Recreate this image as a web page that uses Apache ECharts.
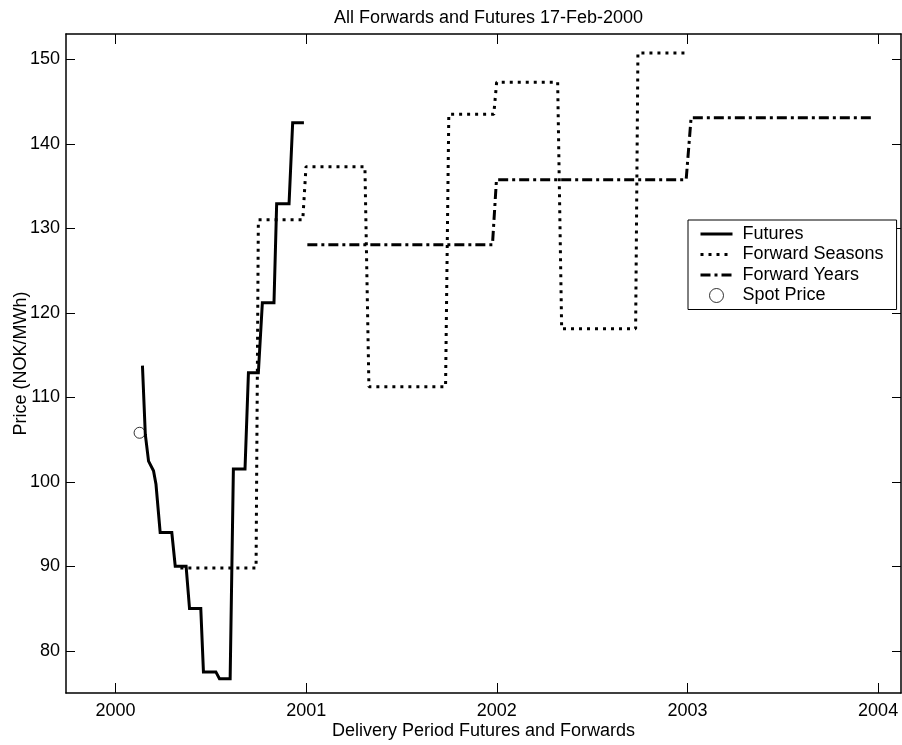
<!DOCTYPE html>
<html>
<head>
<meta charset="utf-8">
<script src="https://cdn.jsdelivr.net/npm/echarts@6/dist/echarts.min.js"></script>
<style>
html,body{margin:0;padding:0;background:#fff;}
#chart{width:902px;height:745px;}
</style>
</head>
<body>
<div id="chart"></div>
<script>
// ---- data (x in decimal years, y in NOK/MWh) ----
var futuresX = [2000.141, 2000.156, 2000.173, 2000.199, 2000.212, 2000.234, 2000.295, 2000.313, 2000.370, 2000.388, 2000.447, 2000.461, 2000.526, 2000.545, 2000.601, 2000.618, 2000.679, 2000.697, 2000.749, 2000.770, 2000.831, 2000.845, 2000.910, 2000.929, 2000.988];
var futuresY = [113.75, 105.6, 102.45, 101.3, 99.7, 94.0, 94.0, 90.0, 90.0, 85.0, 85.0, 77.5, 77.5, 76.7, 76.7, 101.5, 101.5, 112.9, 112.9, 121.2, 121.2, 132.9, 132.9, 142.5, 142.5];

var seasonsX = [2000.340, 2000.737, 2000.749, 2000.982, 2000.999, 2001.308, 2001.329, 2001.731, 2001.748, 2001.984, 2001.999, 2002.319, 2002.340, 2002.728, 2002.740, 2002.993];
var seasonsY = [89.8, 89.8, 131.0, 131.0, 137.3, 137.3, 111.25, 111.25, 143.5, 143.5, 147.3, 147.3, 118.1, 118.1, 150.75, 150.75];

var yearsX = [2001.006, 2001.977, 2001.998, 2002.993, 2003.019, 2003.980];
var yearsY = [128.05, 128.05, 135.75, 135.75, 143.1, 143.1];

var spotX = [2000.126];
var spotY = [105.8];

var xTicks = [2000, 2001, 2002, 2003, 2004];
var yTicks = [80, 90, 100, 110, 120, 130, 140, 150];

var titleText = 'All Forwards and Futures 17-Feb-2000';
var xName = 'Delivery Period Futures and Forwards';
var yName = 'Price (NOK/MWh)';
var seriesNames = ['Futures', 'Forward Seasons', 'Forward Years', 'Spot Price'];

function pairs(xs, ys) { return xs.map(function (x, i) { return [x, ys[i]]; }); }

var FONT = 'Liberation Sans, Arial, sans-serif';
var FS = 18;
var xMin = 1999.74, xMax = 2004.12, yMin = 75, yMax = 153;

var chart = echarts.init(document.getElementById('chart'), null, { renderer: 'canvas' });

var axisLine = { show: true, onZero: false, lineStyle: { color: '#000', width: 1.5 } };
var hiddenSym = { color: 'rgba(0,0,0,0)', borderColor: 'rgba(0,0,0,0)', borderWidth: 0, opacity: 0 };

var option = {
  animation: false,
  backgroundColor: '#fff',
  textStyle: { fontFamily: FONT },
  title: {
    text: titleText,
    left: 483.5,
    textAlign: 'center',
    top: 4,
    textStyle: { fontFamily: FONT, fontSize: FS, fontWeight: 'normal', color: '#000' }
  },
  grid: { left: 66, top: 34, right: 1, bottom: 49, containLabel: false },
  legend: {
    orient: 'vertical',
    left: 688,
    top: 220,
    padding: [5, 13, 5, 11],
    itemWidth: 32,
    itemHeight: 14,
    itemGap: 2.5,
    backgroundColor: '#fff',
    borderColor: '#000',
    borderWidth: 1,
    borderRadius: 0,
    lineStyle: { width: 3 },
    textStyle: { fontFamily: FONT, fontSize: FS, color: '#000', lineHeight: 16, padding: [0, 0, 0, 5] },
    data: [
      { name: seriesNames[0], itemStyle: hiddenSym },
      { name: seriesNames[1], itemStyle: hiddenSym },
      { name: seriesNames[2], itemStyle: hiddenSym },
      { name: seriesNames[3], itemStyle: { borderWidth: 1 } }
    ]
  },
  xAxis: [
    {
      type: 'value', position: 'bottom', min: xMin, max: xMax,
      name: xName, nameLocation: 'middle', nameGap: 29, nameMoveOverlap: false,
      nameTextStyle: { fontFamily: FONT, fontSize: FS, color: '#000' },
      axisLine: axisLine,
      axisTick: { show: true, inside: true, length: 10, customValues: xTicks, lineStyle: { color: '#000', width: 1 } },
      axisLabel: { show: true, customValues: xTicks, margin: 9, fontFamily: FONT, fontSize: FS, color: '#000', formatter: function (v) { return String(Math.round(v)); } },
      splitLine: { show: false }
    },
    {
      type: 'value', position: 'top', min: xMin, max: xMax,
      axisLine: axisLine,
      axisTick: { show: true, inside: true, length: 10, customValues: xTicks, lineStyle: { color: '#000', width: 1 } },
      axisLabel: { show: false },
      splitLine: { show: false }
    }
  ],
  yAxis: [
    {
      type: 'value', position: 'left', min: yMin, max: yMax,
      name: yName, nameLocation: 'middle', nameGap: 36, nameMoveOverlap: false,
      nameTextStyle: { fontFamily: FONT, fontSize: FS, color: '#000' },
      axisLine: axisLine,
      axisTick: { show: true, inside: true, length: 9, customValues: yTicks, lineStyle: { color: '#000', width: 1 } },
      axisLabel: { show: true, customValues: yTicks, margin: 6, fontFamily: FONT, fontSize: FS, color: '#000' },
      splitLine: { show: false }
    },
    {
      type: 'value', position: 'right', min: yMin, max: yMax,
      axisLine: axisLine,
      axisTick: { show: true, inside: true, length: 9, customValues: yTicks, lineStyle: { color: '#000', width: 1 } },
      axisLabel: { show: false },
      splitLine: { show: false }
    }
  ],
  series: [
    {
      name: seriesNames[0], type: 'line', xAxisIndex: 0, yAxisIndex: 0,
      data: pairs(futuresX, futuresY), symbol: 'none', silent: true,
      lineStyle: { color: '#000', width: 3, type: 'solid', join: 'miter' },
      itemStyle: { color: '#000' }
    },
    {
      name: seriesNames[1], type: 'line', xAxisIndex: 0, yAxisIndex: 0,
      data: pairs(seasonsX, seasonsY), symbol: 'none', silent: true,
      lineStyle: { color: '#000', width: 3, type: [3, 5], cap: 'butt' },
      itemStyle: { color: '#000' }
    },
    {
      name: seriesNames[2], type: 'line', xAxisIndex: 0, yAxisIndex: 0,
      data: pairs(yearsX, yearsY), symbol: 'none', silent: true,
      lineStyle: { color: '#000', width: 3, type: [10, 4, 3, 4], cap: 'butt' },
      itemStyle: { color: '#000' }
    },
    {
      name: seriesNames[3], type: 'scatter', xAxisIndex: 0, yAxisIndex: 0,
      data: pairs(spotX, spotY), symbol: 'circle', symbolSize: 11, silent: true,
      itemStyle: { color: '#fff', borderColor: '#000', borderWidth: 1 }
    }
  ]
};
chart.setOption(option);
</script>
</body>
</html>
